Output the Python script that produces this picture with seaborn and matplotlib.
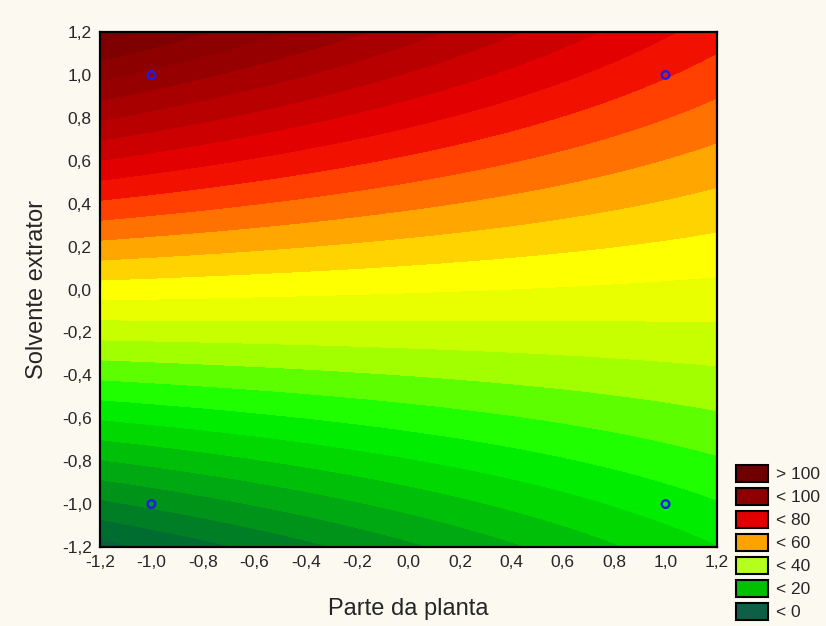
import numpy as np
import pandas as pd
import matplotlib
matplotlib.use("Agg")
import matplotlib.pyplot as plt
from matplotlib.colors import LinearSegmentedColormap
from matplotlib.patches import Patch
from matplotlib.ticker import FuncFormatter
import seaborn as sns

# 2^2 factorial design: coded levels and measured response
parte = [-1.0, 1.0, -1.0, 1.0]
solvente = [-1.0, -1.0, 1.0, 1.0]
resposta = [1.0, 22.4, 103.6, 75.4]

# contour levels and legend classes
niveis = list(range(-20, 130, 5))
legenda_rotulos = ["> 100", "< 100", "< 80", "< 60", "< 40", "< 20", "< 0"]
legenda_cores = ["#6e0000", "#8c0000", "#e00000", "#ffa200", "#b4ff1e", "#00c000", "#0f5f46"]

sns.set_style("white")
plt.rcParams["font.family"] = ["Liberation Sans", "DejaVu Sans"]

fundo = "#fcf9f1"
fig = plt.figure(figsize=(8.26, 6.26), dpi=100, facecolor=fundo)
ax = fig.add_axes([100 / 826, 1 - 547 / 626, 617 / 826, 515 / 626])

# bilinear response-surface model fitted to the design points
df = pd.DataFrame({"x": parte, "y": solvente, "z": resposta})
A = np.column_stack([np.ones(len(df)), df.x, df.y, df.x * df.y])
coef, *_ = np.linalg.lstsq(A, df.z.values, rcond=None)
gx, gy = np.meshgrid(np.linspace(-1.2, 1.2, 400), np.linspace(-1.2, 1.2, 400))
gz = coef[0] + coef[1] * gx + coef[2] * gy + coef[3] * gx * gy

# colour ramp (value -> RGB), sampled at each band's midpoint
paradas = [
    (-20, (12, 80, 66)), (-12.5, (15, 92, 62)), (-7.5, (0, 110, 48)),
    (-2.5, (0, 128, 36)), (2.5, (0, 148, 26)), (7.5, (0, 170, 16)),
    (12.5, (0, 192, 8)), (17.5, (0, 215, 0)), (22.5, (0, 238, 0)),
    (27.5, (30, 255, 0)), (32.5, (95, 255, 0)), (37.5, (160, 255, 0)),
    (42.5, (200, 255, 0)), (47.5, (232, 255, 0)), (52.5, (255, 255, 0)),
    (57.5, (255, 212, 0)), (62.5, (255, 165, 0)), (67.5, (255, 115, 0)),
    (72.5, (255, 62, 0)), (77.5, (242, 16, 0)), (82.5, (226, 0, 0)),
    (87.5, (206, 0, 0)), (92.5, (186, 0, 0)), (97.5, (168, 0, 0)),
    (102.5, (152, 0, 0)), (107.5, (140, 0, 0)), (112.5, (128, 0, 0)),
    (130, (105, 0, 0)),
]
vmin, vmax = paradas[0][0], paradas[-1][0]
cmap = LinearSegmentedColormap.from_list(
    "resp", [((v - vmin) / (vmax - vmin), tuple(c / 255 for c in rgb)) for v, rgb in paradas]
)
ax.contourf(gx, gy, gz, levels=niveis, cmap=cmap, vmin=vmin, vmax=vmax, extend="both")

sns.scatterplot(data=df, x="x", y="y", ax=ax, marker="o", s=30,
                facecolor="none", edgecolor="#1e1ee6", linewidth=1.7, legend=False, zorder=5)

ax.set_xlim(-1.2, 1.2)
ax.set_ylim(-1.2, 1.2)
ticks = np.round(np.arange(-1.2, 1.21, 0.2), 1)
ax.set_xticks(ticks)
ax.set_yticks(ticks)
fmt = FuncFormatter(lambda v, p: f"{v:.1f}".replace(".", ",").replace("-0,0", "0,0"))
ax.xaxis.set_major_formatter(fmt)
ax.yaxis.set_major_formatter(fmt)
ax.tick_params(direction="in", length=5, width=1.2, color="black", labelsize=12.5,
               top=True, right=True, bottom=True, left=True, pad=6)
for s in ax.spines.values():
    s.set_color("black")
    s.set_linewidth(1.6)

ax.set_xlabel("Parte da planta", fontsize=17, labelpad=20)
ax.set_ylabel("Solvente extrator", fontsize=17, labelpad=10)

handles = [Patch(facecolor=c, edgecolor="black", linewidth=1.5) for c in legenda_cores]
fig.legend(handles, legenda_rotulos, loc="lower left", bbox_to_anchor=(733 / 826, 3 / 626),
           frameon=False, fontsize=12.5, handlelength=1.85, handleheight=1.2,
           labelspacing=0.3, handletextpad=0.45, borderpad=0.15, borderaxespad=0.0)

fig.savefig("out.png", dpi=100, facecolor=fundo)
